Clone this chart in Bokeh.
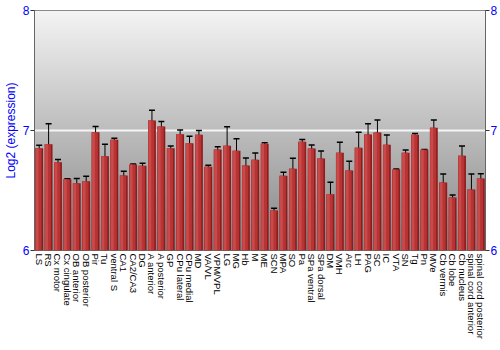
import numpy as np
from bokeh.plotting import figure
from bokeh.models import (ColumnDataSource, FactorRange, Range1d, LinearAxis, FixedTicker,
                          Whisker, TeeHead)
from bokeh.transform import dodge
from bokeh.embed import file_html
from bokeh.resources import INLINE

regions = ["LS", "RS", "Cx motor", "Cx cingulate", "OB anterior", "OB posterior", "Pir", "Tu",
           "ventral S", "CA1", "CA2/CA3", "DG", "A anterior", "A posterior", "GP", "CPu lateral",
           "CPu medial", "MD", "VA/VL", "VPM/VPL", "LG", "MG", "Hb", "M", "ME", "SCN", "MPA", "SO",
           "Pa", "SPa ventral", "SPa dorsal", "DM", "VMH", "Arc", "LH", "PAG", "SC", "IC", "VTA",
           "SN", "Tg", "Pn", "MVe", "Cb vermis", "Cb lobe", "Cb nucleus", "spinal cord anterior",
           "spinal cord posterior"]
expression = [6.853, 6.886, 6.736, 6.594, 6.561, 6.578, 6.986, 6.786, 6.922, 6.625, 6.717, 6.706,
              7.083, 7.033, 6.853, 6.969, 6.894, 6.964, 6.697, 6.842, 6.872, 6.831, 6.708, 6.756,
              6.889, 6.333, 6.622, 6.681, 6.906, 6.850, 6.767, 6.469, 6.814, 6.667, 6.856, 6.967,
              6.983, 6.881, 6.675, 6.814, 6.964, 6.839, 7.022, 6.567, 6.442, 6.789, 6.508, 6.600]
error = [0.024, 0.170, 0.022, 0.003, 0.040, 0.040, 0.047, 0.100, 0.014, 0.036, 0.003, 0.022,
         0.085, 0.042, 0.017, 0.035, 0.058, 0.036, 0.014, 0.022, 0.160, 0.100, 0.063, 0.056,
         0.008, 0.020, 0.030, 0.088, 0.020, 0.030, 0.062, 0.100, 0.088, 0.077, 0.130, 0.090,
         0.105, 0.082, 0.004, 0.024, 0.010, 0.003, 0.065, 0.070, 0.020, 0.082, 0.130, 0.040]
y_ticks = [6, 7, 8]
y_min, y_max = 6, 8

expr = np.array(expression)
err = np.array(error)
src = ColumnDataSource(dict(cats=regions, val=expr, upper=expr + err, lower=expr - err))

BLUE = "#0000ff"
FONT = "Liberation Sans"

p = figure(width=500, height=350, x_range=FactorRange(*regions, range_padding=0),
           y_range=Range1d(y_min, y_max), output_backend="svg", toolbar_location=None,
           min_border_left=0, min_border_right=0, min_border_top=10, min_border_bottom=100,
           background_fill_color="white", border_fill_color="white")
p.outline_line_color = "#666666"

# gradient background
n = 256
t = np.linspace(0, 1, n)  # bottom -> top
shade = (0x86 + (0xf4 - 0x86) * t).astype(np.uint32)
img = np.empty((n, 1), dtype=np.uint32)
view = img.view(dtype=np.uint8).reshape((n, 1, 4))
view[:, 0, 0] = shade
view[:, 0, 1] = shade
view[:, 0, 2] = shade
view[:, 0, 3] = 255
bg = p.image_rgba(image=[img], x=0, y=y_min, dw=len(regions), dh=y_max - y_min)
bg.level = "image"

# grid line at 7
p.xgrid.grid_line_color = None
p.ygrid.ticker = FixedTicker(ticks=[7])
p.ygrid.grid_line_color = "#f4f4f4"
p.ygrid.grid_line_width = 2

# bars with shading
p.vbar(x="cats", top="val", bottom=y_min, width=0.84, source=src,
       fill_color="#8e1c1c", line_color=None)
p.vbar(x=dodge("cats", -0.08, range=p.x_range), top="val", bottom=y_min, width=0.66, source=src,
       fill_color="#b83434", line_color=None)
p.vbar(x=dodge("cats", -0.22, range=p.x_range), top="val", bottom=y_min, width=0.3, source=src,
       fill_color="#c84a4a", line_color=None)

w = Whisker(base="cats", upper="upper", lower="lower", source=src, line_color="black",
            line_width=1,
            upper_head=TeeHead(size=6, line_color="black", line_width=1.5),
            lower_head=TeeHead(size=6, line_color="black", line_width=1.5))
p.add_layout(w)

# left axis
ya = p.yaxis[0]
ya.ticker = FixedTicker(ticks=y_ticks)
ya.axis_label = "Log2 (expression)"
ya.axis_label_text_color = BLUE
ya.axis_label_text_font = FONT
ya.axis_label_text_font_size = "12px"
ya.axis_label_text_font_style = "normal"
ya.axis_label_standoff = 2
ya.major_label_text_color = BLUE
ya.major_label_text_font = FONT
ya.major_label_text_font_size = "12px"
ya.major_label_standoff = 1
ya.major_tick_out = 4
ya.major_tick_in = 0
ya.minor_tick_line_color = None
ya.axis_line_color = "#666666"
ya.major_tick_line_color = "#333333"

# right axis
ra = LinearAxis(ticker=FixedTicker(ticks=y_ticks))
ra.major_label_text_color = BLUE
ra.major_label_text_font = FONT
ra.major_label_text_font_size = "12px"
ra.major_label_standoff = 1
ra.major_tick_out = 4
ra.major_tick_in = 0
ra.minor_tick_line_color = None
ra.axis_line_color = "#666666"
ra.major_tick_line_color = "#333333"
p.add_layout(ra, "right")

# x axis
xa = p.xaxis[0]
xa.major_label_orientation = "vertical"
xa.major_label_text_font = FONT
xa.major_label_text_font_size = "9.5px"
xa.major_label_text_color = "black"
xa.major_label_standoff = 3
xa.major_tick_line_color = None
xa.axis_line_color = None
xa.major_tick_out = 0

open("out.html", "w").write(file_html(p, INLINE))
